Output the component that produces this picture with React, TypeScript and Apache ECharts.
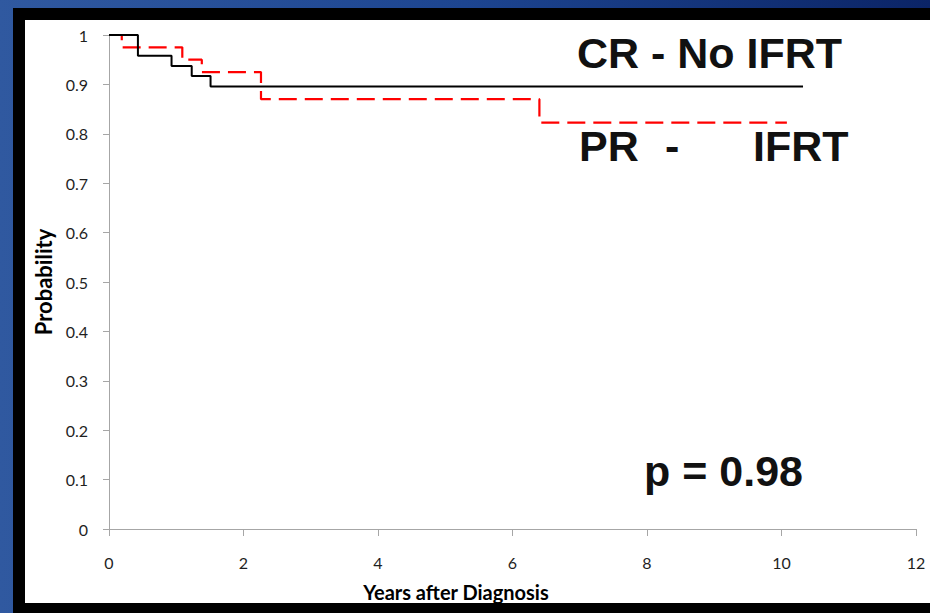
import React, { useEffect, useRef } from "react";
import * as echarts from "echarts";

// Kaplan-Meier step data [years, probability]
const crNoIfrt: [number, number][] = [
  [0, 1],
  [0.43, 0.958],
  [0.93, 0.937],
  [1.23, 0.917],
  [1.51, 0.896],
  [10.32, 0.896],
];
const prIfrt: [number, number][] = [
  [0, 1],
  [0.19, 0.975],
  [1.09, 0.95],
  [1.38, 0.925],
  [2.26, 0.87],
  [6.4, 0.8225],
  [10.08, 0.8225],
];
const xTicks = [0, 2, 4, 6, 8, 10, 12];
const yTicks = [0, 0.1, 0.2, 0.3, 0.4, 0.5, 0.6, 0.7, 0.8, 0.9, 1];
const labelCR = "CR - No IFRT";
const labelPRParts = ["PR", "-", "IFRT"];
const pValue = "p = 0.98";
const xTitle = "Years after Diagnosis";
const yTitle = "Probability";

export default function App() {
  const ref = useRef<HTMLDivElement>(null);
  useEffect(() => {
    document.body.style.margin = "0";
    if (!ref.current) return;
    const chart = echarts.init(ref.current, undefined, { renderer: "svg" });
    const axisColor = "#a6a6a6";
    const labelColor = "#1f1f1f";
    const bigFont = "bold 43px 'Liberation Sans', Arial, sans-serif";
    const bigText = (text: string, x: number, y: number) => ({
      type: "text",
      x,
      y,
      style: {
        text,
        font: bigFont,
        fill: "#111",
        textAlign: "left",
        textVerticalAlign: "middle",
      },
    });
    chart.setOption({
      animation: false,
      backgroundColor: "transparent",
      grid: { left: 109, right: 14, top: 35, bottom: 84, containLabel: false },
      xAxis: {
        type: "value",
        min: xTicks[0],
        max: xTicks[xTicks.length - 1],
        interval: 2,
        axisLine: { show: true, lineStyle: { color: axisColor, width: 1 } },
        axisTick: { show: true, length: 7, lineStyle: { color: axisColor } },
        splitLine: { show: false },
        axisLabel: {
          margin: 25,
          color: labelColor,
          fontFamily: "Lato",
          fontSize: 16,
        },
      },
      yAxis: {
        type: "value",
        min: yTicks[0],
        max: yTicks[yTicks.length - 1],
        interval: 0.1,
        name: yTitle,
        nameLocation: "middle",
        nameGap: 53,
        nameRotate: 90,
        nameTextStyle: {
          fontFamily: "Lato",
          fontWeight: "bold",
          fontSize: 22,
          color: "#000",
        },
        axisLine: { show: true, lineStyle: { color: axisColor, width: 1 } },
        axisTick: { show: true, length: 6, lineStyle: { color: axisColor } },
        splitLine: { show: false },
        axisLabel: {
          margin: 21,
          color: labelColor,
          fontFamily: "Lato",
          fontSize: 16,
          formatter: (v: number) => String(Math.round(v * 10) / 10),
        },
      },
      series: [
        {
          name: labelCR,
          type: "line",
          step: "end",
          data: crNoIfrt,
          showSymbol: false,
          symbol: "none",
          lineStyle: { color: "#000", width: 2 },
          z: 3,
        },
        {
          name: labelPRParts.join(" "),
          type: "line",
          step: "end",
          data: prIfrt,
          showSymbol: false,
          symbol: "none",
          lineStyle: { color: "#ff0000", width: 2.2, type: [18, 8] },
          z: 2,
        },
      ],
      graphic: [
        bigText(labelCR, 577, 53),
        bigText(labelPRParts[0], 579, 146),
        bigText(labelPRParts[1], 665, 146),
        bigText(labelPRParts[2], 753, 146),
        bigText(pValue, 644, 471),
        {
          type: "text",
          x: 456,
          y: 592,
          style: {
            text: xTitle,
            font: "bold 20px Lato, sans-serif",
            fill: "#000",
            textAlign: "center",
            textVerticalAlign: "middle",
          },
        },
      ],
    });
    return () => chart.dispose();
  }, []);

  return (
    <div
      style={{
        position: "fixed",
        left: 0,
        top: 0,
        width: 930,
        height: 613,
        background: "linear-gradient(to right, #3059a0 0%, #1d4590 50%, #0b2466 100%)",
        overflow: "hidden",
      }}
    >
      <div style={{ position: "absolute", left: 13, top: 8, width: 917, height: 605, background: "#000" }} />
      <div style={{ position: "absolute", left: 25, top: 20, width: 905, height: 583, background: "#fff" }} />
      <div ref={ref} style={{ position: "absolute", left: 0, top: 0, width: 930, height: 613 }} />
    </div>
  );
}
